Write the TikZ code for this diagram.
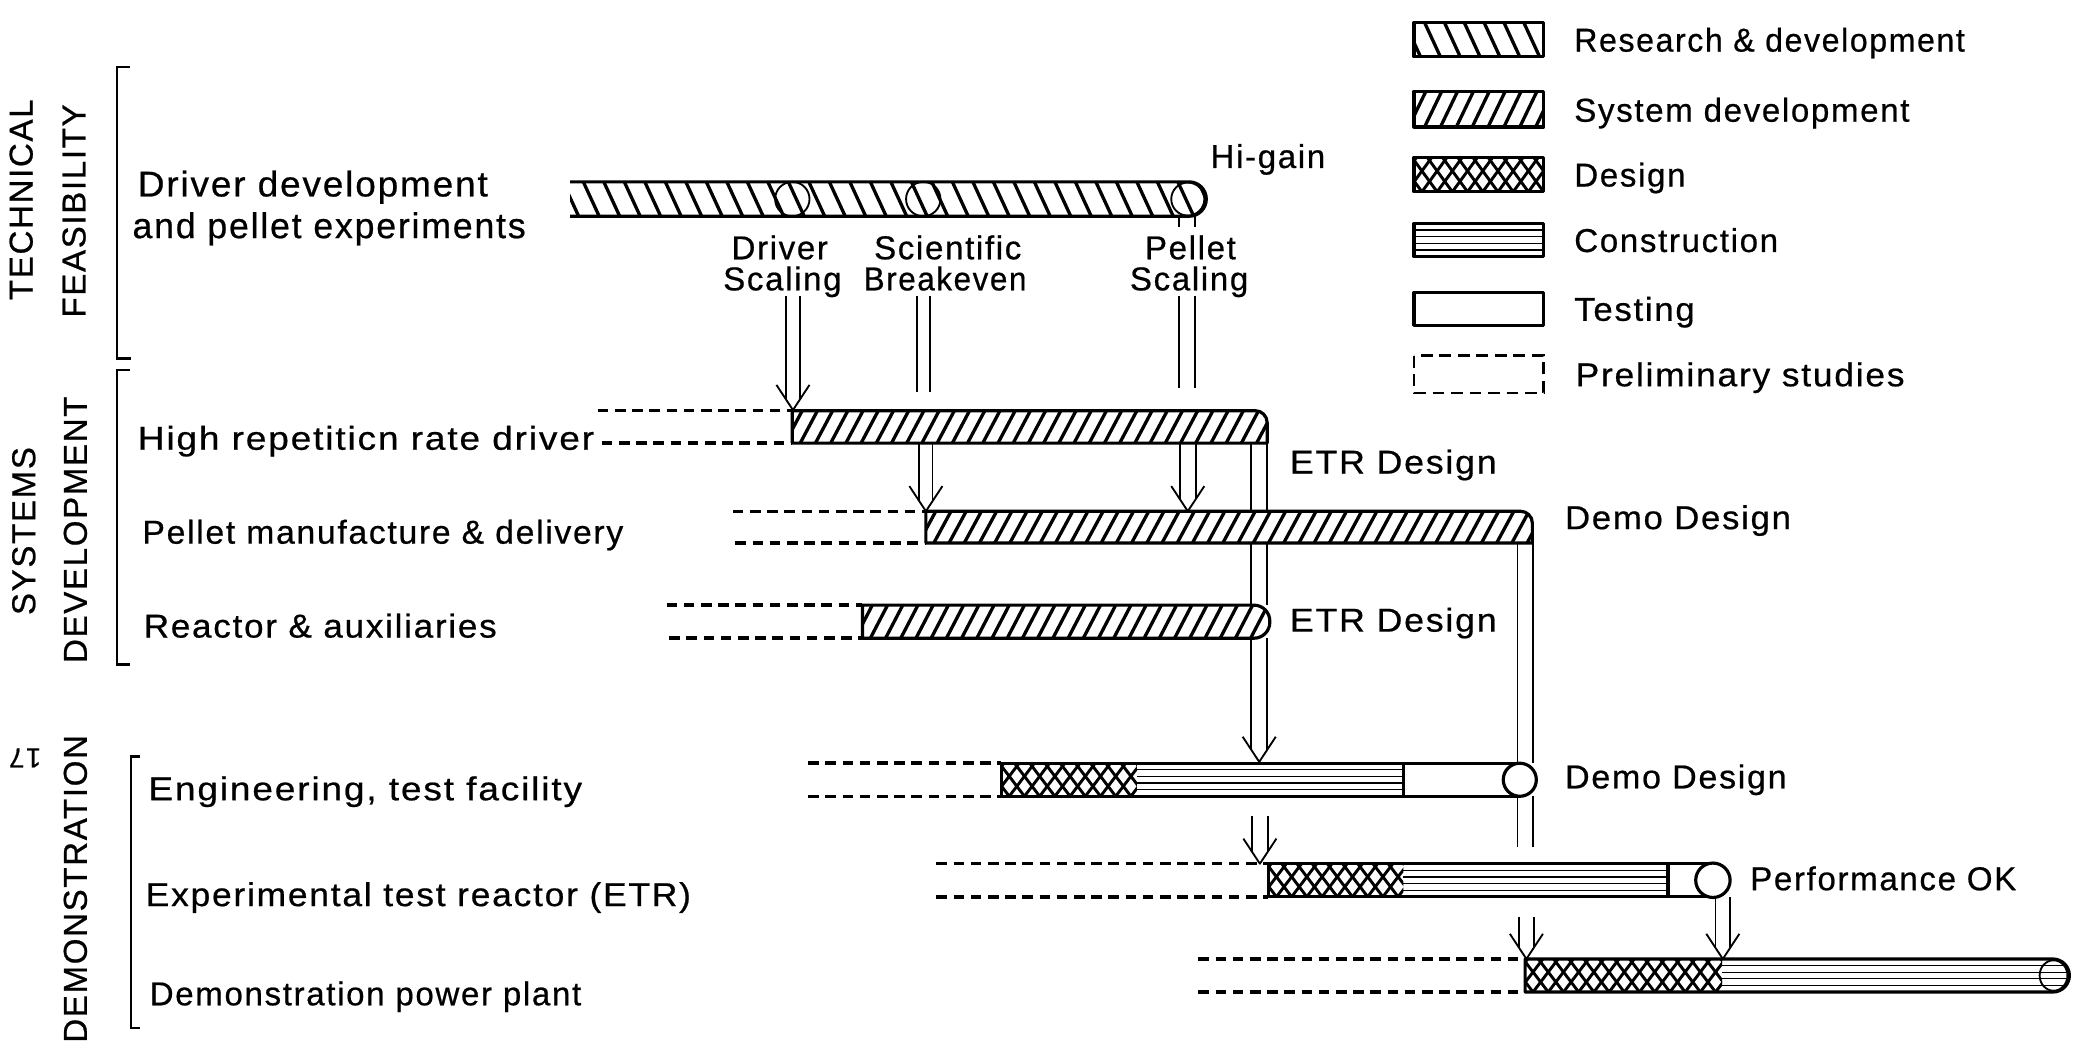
\documentclass[tikz,border=0pt]{standalone}
\usepackage{fontspec}
\usepackage{graphicx}
\setmainfont{Liberation Sans}[LetterSpace=5, FakeBold=0.6]
\newcommand\labfont{\fontsize{25}{21}\selectfont}
\newcommand\bigfont{\fontsize{27}{27}\selectfont}
\newcommand\sx[2]{\scalebox{#1}[1]{#2}}
\tikzset{
  outline/.style={line width=2.4pt, line join=round},
  hl/.style={line width=2.5pt},
  xl/.style={line width=2.2pt},
  cl/.style={line width=1pt},
  pipe/.style={line width=1.4pt},
  prelim/.style={line width=2.6pt, dash pattern=on 8pt off 5pt},
  brk/.style={line width=1.8pt},
  lab/.style={font=\labfont, inner sep=0pt, anchor=base west},
  ctr/.style={font=\labfont, inner sep=0pt, anchor=base},
  side/.style={font=\labfont, inner sep=0pt, rotate=90, anchor=center},
}
% bar shapes: #1 x-left #2 x-right #3 top #4 bottom #5 radius
\newcommand\RB[5]{(#1,#3) -- ({#2-#5},#3) arc[start angle=-90,end angle=0,radius=#5] -- (#2,{#4-#5}) arc[start angle=0,end angle=90,radius=#5] -- (#1,#4) -- cycle}
\newcommand\TB[5]{(#1,#3) -- ({#2-#5},#3) arc[start angle=-90,end angle=0,radius=#5] -- (#2,#4) -- (#1,#4) -- cycle}
% hatch lines: #1 x1 #2 x2 #3 top #4 bottom #5 dx #6 step
\newcommand\hatch[6]{%
  \pgfmathsetmacro\hxa{#1-40}%
  \pgfmathsetmacro\hxb{#1-40+#6}%
  \pgfmathsetmacro\hxc{#2+40}%
  \foreach \xx in {\hxa,\hxb,...,\hxc}{\draw[hl] (\xx,#4) -- ++(#5,{#3-#4});}%
}
\newcommand\xhatch[6]{%
  \pgfmathsetmacro\hxa{#1-40}%
  \pgfmathsetmacro\hxb{#1-40+#6}%
  \pgfmathsetmacro\hxc{#2+40}%
  \foreach \xx in {\hxa,\hxb,...,\hxc}{\draw[xl] (\xx,#4) -- ++(#5,{#3-#4});}%
}
\newcommand\cross[4]{\xhatch{#1}{#2}{#3}{#4}{19}{11.5}\xhatch{#1}{#2}{#3}{#4}{-19}{11.5}}
\newcommand\constr[4]{\foreach \k in {1,2,3,4}{\draw[cl] (#1,{#3+\k*(#4-#3)/5}) -- (#2,{#3+\k*(#4-#3)/5});}}
% double pipe: #1 cx #2 y1 #3 y2 #4 half gap
\newcommand\dpipe[4]{\draw[pipe] ({#1-#4},#2) -- ({#1-#4},#3); \draw[pipe] ({#1+#4},#2) -- ({#1+#4},#3);}
% open arrow: #1 cx #2 top #3 tip #4 half gap
\newcommand\darrow[4]{%
  \draw[pipe] ({#1-#4},#2) -- ({#1-#4},{#3-19*#4/12.5});
  \draw[pipe] ({#1+#4},#2) -- ({#1+#4},{#3-19*#4/12.5});
  \draw[pipe,line join=round] ({#1-12.5},{#3-19}) -- (#1,#3) -- ({#1+12.5},{#3-19});}
\begin{document}
\begin{tikzpicture}[x=1pt,y=-1pt]
\useasboundingbox (0,0) rectangle (1568,803);

% ---------------- side labels and brackets
\node[side] (tech) at (16,151) {TECHNICAL};
\node[side] (feas) at (56,159.5) {FEASIBILITY};
\node[side] (sys) at (18,401.5) {SYSTEMS};
\node[side] (dev) at (57,400.5) {DEVELOPMENT};
\node[side] (demo) at (57,672) {DEMONSTRATION};
\node[font=\fontsize{21}{21}\selectfont, inner sep=0pt, rotate=180] (pg) at (19,573) {17};
\draw[brk] (98,50.5) -- (88.5,50.5) -- (88.5,271) -- (99,271);
\draw[brk] (98,279.5) -- (88.5,279.5) -- (88.5,502.5) -- (98,502.5);
\draw[brk] (106,572) -- (99,572) -- (99,777) -- (106,777);

% ---------------- row labels
\node[lab, font=\bigfont] (l1a) at (104,148.5) {\sx{1.035}{Driver development}};
\node[lab, font=\bigfont] (l1b) at (100,180) {and pellet experiments};
\node[lab] (l2) at (104,340) {\sx{1.12}{High repetiticn rate driver}};
\node[lab] (l3) at (107.5,411) {\sx{1.02}{Pellet manufacture \& delivery}};
\node[lab] (l4) at (108.5,482) {\sx{1.06}{Reactor \& auxiliaries}};
\node[lab] (l5) at (112,605) {\sx{1.12}{Engineering, test facility}};
\node[lab] (l6) at (110,685) {\sx{1.07}{Experimental test reactor (ETR)}};
\node[lab] (l7) at (113,760) {Demonstration power plant};

% ---------------- preliminary studies (dashed)
\draw[prelim] (452,310.5) -- (599,310.5);
\draw[prelim] (455,335) -- (599,335);
\draw[prelim] (554,386.5) -- (700,386.5);
\draw[prelim] (556,410.5) -- (700,410.5);
\draw[prelim] (504,457.5) -- (652,457.5);
\draw[prelim] (506,482.5) -- (652,482.5);
\draw[prelim] (611,577) -- (757,577);
\draw[prelim] (611,602) -- (757,602);
\draw[prelim] (708,653) -- (959,653);
\draw[prelim] (708,678) -- (959,678);
\draw[prelim] (906,725) -- (1153,725);
\draw[prelim] (906,750) -- (1153,750);

% ---------------- R&D bar
\begin{scope}
  \clip \RB{431}{912}{137.5}{163.5}{13};
  \hatch{431}{912}{137.5}{163.5}{-12}{15.5}
\end{scope}
\draw[outline] (431,137.5) -- (899,137.5) arc[start angle=-90,end angle=90,radius=13] -- (431,163.5);
\draw[pipe] (599,150.5) circle[radius=13];
\draw[pipe] (698,150.5) circle[radius=13];
\draw[pipe] (898,150.5) circle[radius=12.5];
\node[lab] (hig) at (915,127) {Hi-gain};

% milestone labels
\node[ctr] (ds1) at (589.5,196) {Driver};
\node[ctr] (ds2) at (591.5,219.5) {Scaling};
\node[ctr] (sb1) at (716.5,196) {Scientific};
\node[ctr] (sb2) at (714.5,219.5) {\sx{0.95}{Breakeven}};
\node[ctr] (ps1) at (900,196) {Pellet};
\node[ctr] (ps2) at (899,219.5) {Scaling};

% milestone arrows
\darrow{599.5}{224}{310}{5.5}
\dpipe{698}{224}{296}{5}
\darrow{700}{335}{386.5}{5}
\dpipe{897.5}{163.5}{171.5}{6}
\dpipe{897.5}{224}{293}{6}
\darrow{898}{335}{386.5}{6}

% ---------------- systems development bars
\fill[white] \TB{599}{958}{310.5}{335}{9};
\begin{scope}
  \clip \TB{599}{958}{310.5}{335}{9};
  \hatch{599}{958}{310.5}{335}{13}{11.5}
\end{scope}
\draw[outline] \TB{599}{958}{310.5}{335}{9};

\fill[white] \TB{700}{1158.5}{386.5}{410.5}{9};
\begin{scope}
  \clip \TB{700}{1158.5}{386.5}{410.5}{9};
  \hatch{700}{1158.5}{386.5}{410.5}{13}{11.5}
\end{scope}
\draw[outline] \TB{700}{1158.5}{386.5}{410.5}{9};

\fill[white] \RB{652}{960}{457.5}{482.5}{12};
\begin{scope}
  \clip \RB{652}{960}{457.5}{482.5}{12};
  \hatch{652}{960}{457.5}{482.5}{13}{11.5}
\end{scope}
\draw[outline] \RB{652}{960}{457.5}{482.5}{12};

% ETR design pipe
\dpipe{952}{335}{386.5}{6}
\dpipe{952}{410.5}{457.5}{6}
\darrow{952}{482.5}{576}{6}
% Demo design pipe
\dpipe{1153}{410.5}{577}{5.75}
\dpipe{1153}{602}{640}{5.75}
\darrow{1154}{693}{725}{5.75}

\node[lab] (etr1) at (975,358) {\sx{1.08}{ETR Design}};
\node[lab] (dd1) at (1183,400) {\sx{1.05}{Demo Design}};
\node[lab] (etr2) at (975,477.5) {\sx{1.08}{ETR Design}};

% ---------------- engineering test facility
\fill[white] (757,577) rectangle (1149,602);
\begin{scope}
  \clip (757,577) rectangle (859.5,602);
  \cross{757}{859.5}{577}{602}
\end{scope}
\constr{859.5}{1061}{577}{602}
\draw[outline] (1149,577) -- (757,577) -- (757,602) -- (1149,602);
\draw[outline] (1061,577) -- (1061,602);
\draw[outline, fill=white] (1149,589.5) circle[radius=12.5];
\node[lab] (dd2) at (1183,596) {\sx{1.03}{Demo Design}};

\darrow{952.5}{617}{653}{6}

% ---------------- experimental test reactor
\fill[white] (959,653) rectangle (1295,678);
\begin{scope}
  \clip (959,653) rectangle (1061,678);
  \cross{959}{1061}{653}{678}
\end{scope}
\constr{1061}{1261}{653}{678}
\draw[outline] (1295,653) -- (959,653) -- (959,678) -- (1295,678);
\draw[outline] (1261,653) -- (1261,678);
\draw[outline, fill=white] (1295,665.5) circle[radius=13];
\node[lab] (pok) at (1323,673) {Performance OK};

\darrow{1302.5}{678.5}{725}{5.5}

% ---------------- demonstration power plant
\fill[white] \RB{1153}{1564.5}{725}{750}{12.5};
\begin{scope}
  \clip (1153,725) rectangle (1302,750);
  \cross{1153}{1302}{725}{750}
\end{scope}
\begin{scope}
  \clip \RB{1153}{1564.5}{725}{750}{12.5};
  \constr{1302}{1565}{725}{750}
\end{scope}
\draw[outline] \RB{1153}{1564.5}{725}{750}{12.5};
\draw[pipe] (1552.5,737.5) ellipse[x radius=10.5, y radius=11.5];

% ---------------- legend
\begin{scope}
  \clip (1069,17) rectangle (1167,43);
  \hatch{1069}{1167}{17}{43}{-12}{15}
\end{scope}
\draw[outline] (1069,17) rectangle (1167,43);
\begin{scope}
  \clip (1069,69) rectangle (1167,96);
  \hatch{1069}{1167}{69}{96}{13}{12}
\end{scope}
\draw[outline] (1069,69) rectangle (1167,96);
\begin{scope}
  \clip (1069,119) rectangle (1167,145);
  \cross{1069}{1167}{119}{145}
\end{scope}
\draw[outline] (1069,119) rectangle (1167,145);
\constr{1069}{1167}{169}{194}
\draw[outline] (1069,169) rectangle (1167,194);
\draw[outline] (1069,221) rectangle (1167,246);
\draw[line width=2pt, dash pattern=on 9pt off 5pt] (1069,269) rectangle (1167,297);

\node[lab] (lg1) at (1190,39) {\sx{0.97}{Research \& development}};
\node[lab] (lg2) at (1190,92) {System development};
\node[lab] (lg3) at (1190,141) {Design};
\node[lab] (lg4) at (1190,190.5) {Construction};
\node[lab] (lg5) at (1190,242.5) {\sx{1.05}{Testing}};
\node[lab] (lg6) at (1191,292) {\sx{1.07}{Preliminary studies}};
\end{tikzpicture}
\end{document}
